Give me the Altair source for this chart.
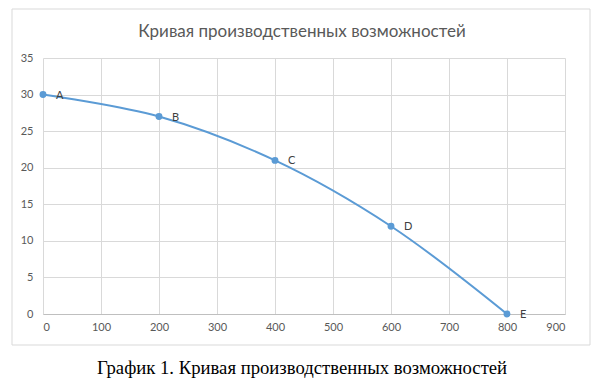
import altair as alt
import pandas as pd

x_vals = [0, 200, 400, 600, 800]
y_vals = [30, 27, 21, 12, 0]
point_labels = ["A", "B", "C", "D", "E"]
x_ticks = [0, 100, 200, 300, 400, 500, 600, 700, 800, 900]
y_ticks = [0, 5, 10, 15, 20, 25, 30, 35]

title_text = "Кривая производственных возможностей"
caption_text = "График 1. Кривая производственных возможностей"

df = pd.DataFrame({"x": x_vals, "y": y_vals, "label": point_labels})

W, H = 522, 256
blue = "#5b9bd5"
grey = "#595959"

xs = alt.Scale(domain=[0, 900], nice=False, zero=False)
ys = alt.Scale(domain=[0, 35], nice=False, zero=False)

xaxis = alt.Axis(values=x_ticks, title=None, grid=True, gridColor="#d9d9d9",
                 ticks=False, domain=True, domainColor="#bfbfbf", labelColor=grey, labelFontSize=11,
                 labelFont="Lato", labelPadding=7, labelOverlap=False)
yaxis = alt.Axis(values=y_ticks, title=None, grid=True, gridColor="#d9d9d9",
                 ticks=False, domain=False, labelColor=grey, labelFontSize=11,
                 labelFont="Lato", labelPadding=10, labelOverlap=False)

X = alt.X("x:Q", scale=xs, axis=xaxis)
Y = alt.Y("y:Q", scale=ys, axis=yaxis)

base = alt.Chart(df)

line = base.mark_line(color=blue, strokeWidth=2, interpolate="catmull-rom").encode(x=X, y=Y)
pts = base.mark_circle(color=blue, size=48, opacity=1).encode(x=X, y=Y)
labels = base.mark_text(align="left", dx=13, dy=1, fontSize=11, font="Lato", color="#404040").encode(
    x=X, y=Y, text="label:N"
)
frame = base.mark_rect(fill=None, stroke="#d9d9d9", strokeWidth=1).encode(
    x=alt.value(-31), x2=alt.value(547), y=alt.value(-49), y2=alt.value(287)
).transform_filter("datum.label == 'A'")
top_title = base.mark_text(fontSize=17, font="Lato", color=grey, baseline="middle").encode(
    x=alt.value(W / 2 - 2), y=alt.value(-26), text=alt.value(title_text)
).transform_filter("datum.label == 'A'")
caption = base.mark_text(fontSize=18.7, font="Liberation Serif", color="#000000", baseline="alphabetic").encode(
    x=alt.value(W / 2 - 2), y=alt.value(H + 60), text=alt.value(caption_text)
).transform_filter("datum.label == 'A'")

chart = alt.layer(line, pts, labels, frame, top_title, caption).properties(
    width=W, height=H,
    autosize=alt.AutoSizeParams(type="none"),
    padding={"left": 35, "top": 50, "right": 31, "bottom": 64},
).configure_view(stroke=None)

chart.save("out.html", embed_options={"renderer": "svg", "actions": False})
